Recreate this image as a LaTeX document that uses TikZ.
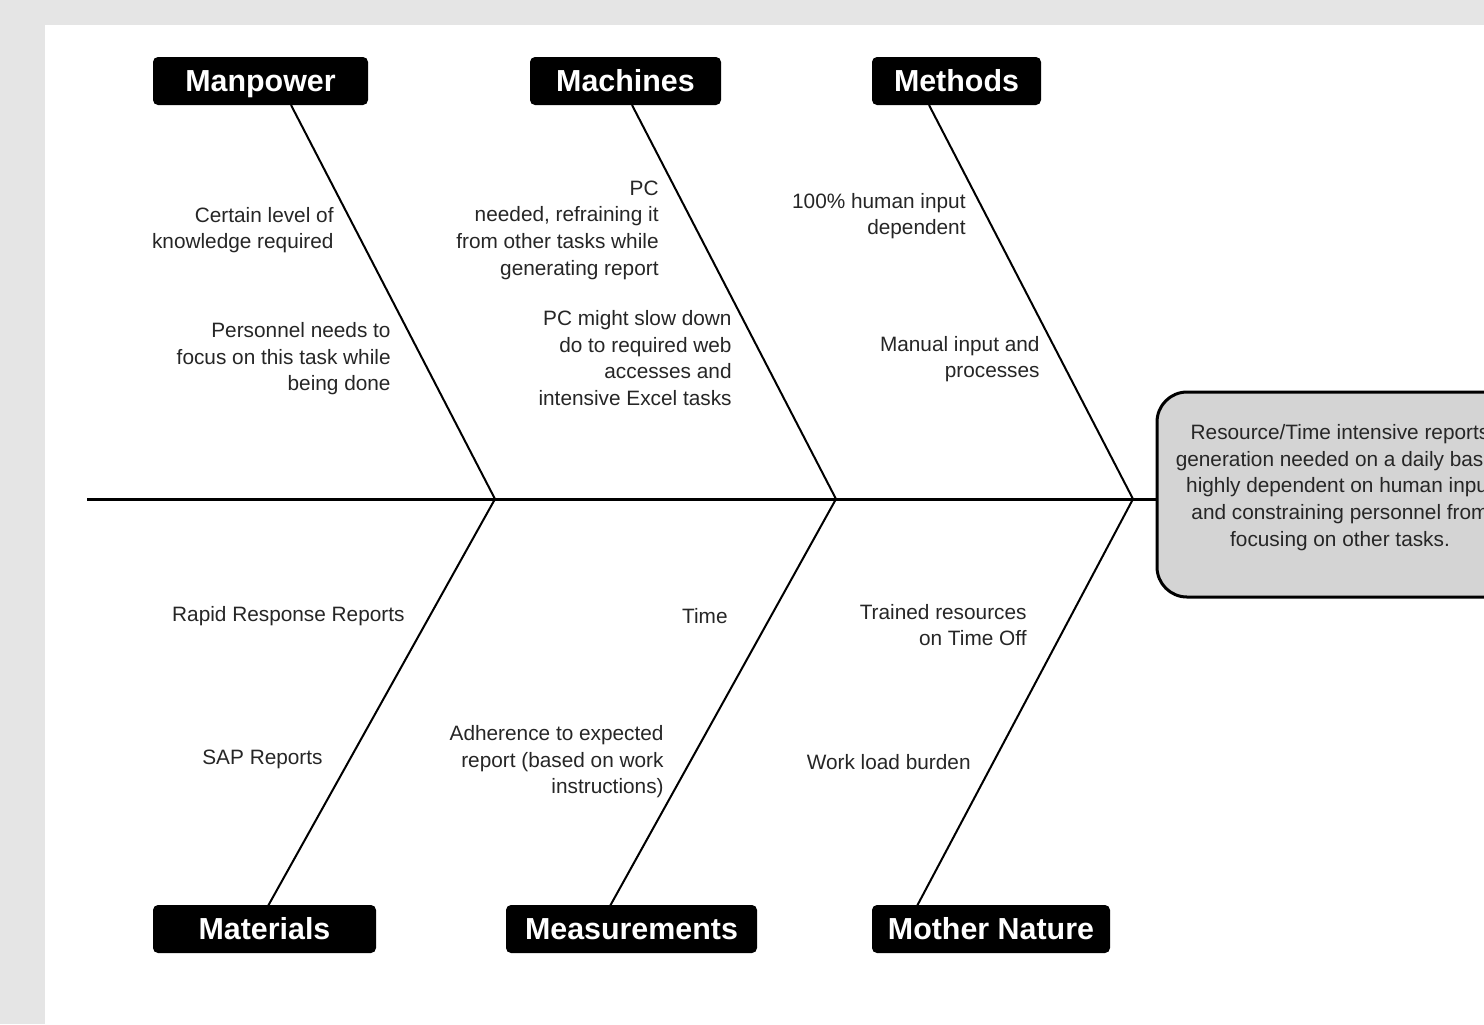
\documentclass[tikz,border=0pt]{standalone}
\usepackage{fontspec}
\setmainfont{Liberation Sans}

\begin{document}
\begin{tikzpicture}[x=0.5pt, y=-0.5pt,
    cat/.style={fill=black, rounded corners=2.5pt, text=white, inner sep=0pt,
        minimum height=24pt, text height=11pt, text depth=1pt,
        font=\fontsize{15.2}{18}\selectfont\bfseries},
    cause/.style={align=right, anchor=east, inner sep=0pt, text=black!85,
        font=\fontsize{10.4}{13.3}\selectfont},
    bone/.style={line width=1pt}]
    % Page: grey margin and white sheet
    \clip (0,0) rectangle (1484,1024);
    \fill[black!10] (0,0) rectangle (1484,1024);
    \fill[white] (45,25) rectangle (1484,1024);

    % Joints on the spine and roots of the bones
    \coordinate (tail) at (87,499);
    \coordinate (j1) at (495,499);
    \coordinate (j2) at (836,499);
    \coordinate (j3) at (1133,499);
    \coordinate (r1) at (291,105);
    \coordinate (r2) at (632,105);
    \coordinate (r3) at (929,105);
    \coordinate (r4) at (268,906);
    \coordinate (r5) at (610,906);
    \coordinate (r6) at (917,906);

    % The effect (head of the fish)
    \node[draw, line width=1.5pt, fill=black!17, rounded corners=15pt,
        minimum width=183pt, minimum height=102.5pt] (effect) at (1340,494.5) {};
    \node[align=center, text=black!85, font=\fontsize{10.4}{13.3}\selectfont]
        (effecttext) at (1340,487.5) {Resource/Time intensive reports\\
        generation needed on a daily basis,\\highly dependent on human input\\
        and constraining personnel from\\focusing on other tasks.};

    % Categories
    \node[cat, minimum width=107.5pt] (manpower) at (260.5,81) {Manpower};
    \node[cat, minimum width=95.5pt] (machines) at (625.5,81) {Machines};
    \node[cat, minimum width=84.5pt] (methods) at (956.5,81) {Methods};
    \node[cat, minimum width=111.5pt] (materials) at (264.5,929) {Materials};
    \node[cat, minimum width=125.5pt] (measurements) at (631.5,929) {Measurements};
    \node[cat, minimum width=119pt] (mothernature) at (991,929) {Mother Nature};

    % Spine and bones
    \draw[line width=1.5pt] (tail) -- (tail -| effect.west);
    \draw[bone] (r1) -- (j1) -- (r4);
    \draw[bone] (r2) -- (j2) -- (r5);
    \draw[bone] (r3) -- (j3) -- (r6);

    % Causes, upper half
    \node[cause] (mp1) at (334,230) {Certain level of\\knowledge required};
    \node[cause] (mp2) at (391,359) {Personnel needs to\\focus on this task while\\being done};
    \node[cause] (mc1) at (659,230) {PC\\needed, refraining it\\from other tasks while\\generating report};
    \node[cause] (mc2) at (732,358) {PC might slow down\\do to required web\\accesses and\\intensive Excel tasks};
    \node[cause] (me1) at (966,216) {100\% human input\\dependent};
    \node[cause] (me2) at (1040,359) {Manual input and\\processes};

    % Causes, lower half
    \node[cause] (ma1) at (405,616) {Rapid Response Reports};
    \node[cause] (ma2) at (323,759) {SAP Reports};
    \node[cause] (ms1) at (728,616) {Time};
    \node[cause] (ms2) at (664,762) {Adherence to expected\\report (based on work\\instructions)};
    \node[cause] (mn1) at (1027,625) {Trained resources\\on Time Off};
    \node[cause] (mn2) at (971,762) {Work load burden};
\end{tikzpicture}
\end{document}
